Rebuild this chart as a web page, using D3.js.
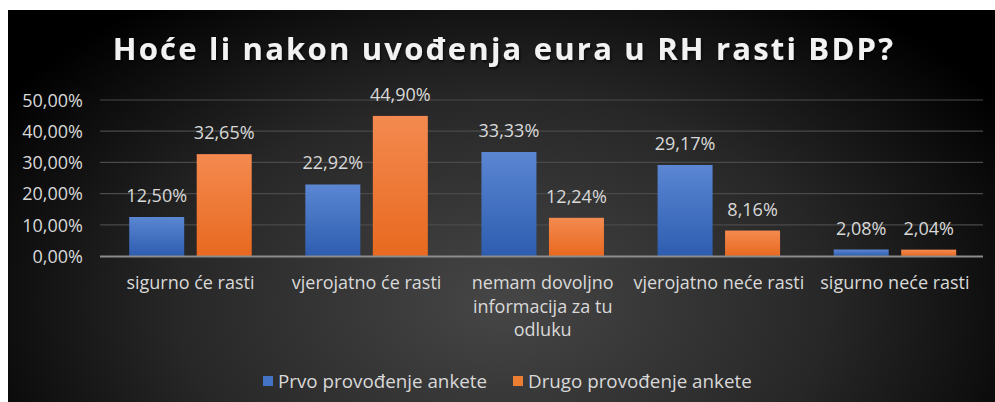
<!DOCTYPE html>
<html><head><meta charset="utf-8">
<script src="https://cdn.jsdelivr.net/npm/d3@7"></script>
<style>
html,body{margin:0;padding:0;background:#fff;}
svg{display:block;}
</style></head>
<body>
<svg id="chart" width="995" height="402"></svg>
<script>
const categories = [["sigurno će rasti"],["vjerojatno će rasti"],["nemam dovoljno","informacija za tu","odluku"],["vjerojatno neće rasti"],["sigurno neće rasti"]];
const seriesNames = ["Prvo provođenje ankete","Drugo provođenje ankete"];
const prvo = [12.50, 22.92, 33.33, 29.17, 2.08];
const drugo = [32.65, 44.90, 12.24, 8.16, 2.04];
const yTicks = [0,10,20,30,40,50];
const title = "Hoće li nakon uvođenja eura u RH rasti BDP?";

const fmt = v => v.toFixed(2).replace('.', ',') + '%';
const svg = d3.select('#chart');
const defs = svg.append('defs');
const rg = defs.append('radialGradient').attr('id','bg').attr('cx','50%').attr('cy','75%').attr('r','60%').attr('fx','50%').attr('fy','75%')
  .attr('gradientTransform','translate(0.5,0.75) scale(1,1.6) translate(-0.5,-0.75)');
rg.append('stop').attr('offset','0%').attr('stop-color','#464646');
rg.append('stop').attr('offset','55%').attr('stop-color','#272727');
rg.append('stop').attr('offset','100%').attr('stop-color','#000000');
const mkGrad = (id, top, bot) => {
  const g = defs.append('linearGradient').attr('id',id).attr('x1',0).attr('y1',0).attr('x2',0).attr('y2',1);
  g.append('stop').attr('offset','0%').attr('stop-color',top);
  g.append('stop').attr('offset','100%').attr('stop-color',bot);
};
mkGrad('gBlue','#5a86d2','#2e5db0');
mkGrad('gOrange','#f48a50','#e8691f');
const sh = defs.append('filter').attr('id','ts').attr('x','-10%').attr('y','-30%').attr('width','120%').attr('height','160%');
sh.append('feDropShadow').attr('dx',1).attr('dy',2).attr('stdDeviation',1.5).attr('flood-color','#000').attr('flood-opacity',0.7);

svg.append('rect').attr('x',8).attr('y',10).attr('width',987).attr('height',392).attr('fill','url(#bg)');

svg.append('text').attr('x',504).attr('y',60).attr('text-anchor','middle')
  .attr('font-family','Open Sans').attr('font-weight',700).attr('font-size',31).attr('letter-spacing',2.2)
  .attr('fill','#f2f2f2').attr('filter','url(#ts)').text(title);

const x0 = d3.scaleBand().domain(d3.range(categories.length)).range([102.4,983]).paddingInner(0).paddingOuter(0);
const y = d3.scaleLinear().domain([0,50]).range([256,100]);

const font = 'Open Sans';
const fs = 18;
const grid = svg.append('g');
yTicks.slice(1).forEach(t => {
  grid.append('line').attr('x1',100).attr('x2',983).attr('y1',y(t)).attr('y2',y(t)).attr('stroke','#4a4a4a').attr('stroke-width',1.2);
});
const yAxis = d3.axisLeft(y).tickValues(yTicks).tickSize(0).tickPadding(0).tickFormat(d => d.toFixed(2).replace('.',',') + '%');
const ga = svg.append('g').attr('transform','translate(83,0)').call(yAxis);
ga.select('.domain').remove();
ga.selectAll('text').attr('font-family',font).attr('font-size',fs).attr('fill','#d9d9d9').attr('dy','0.35em');

const bw = 55, gap = 12.5;
const series = [{vals:prvo, fill:'url(#gBlue)', off:-(gap/2+bw)}, {vals:drugo, fill:'url(#gOrange)', off:gap/2}];
series.forEach(s => {
  const g = svg.append('g');
  g.selectAll('rect').data(s.vals).join('rect')
    .attr('x',(d,i)=>x0(i)+x0.bandwidth()/2+s.off)
    .attr('y',d=>y(d)).attr('width',bw).attr('height',d=>y(0)-y(d))
    .attr('fill',s.fill);
  g.selectAll('text').data(s.vals).join('text')
    .attr('x',(d,i)=>x0(i)+x0.bandwidth()/2+s.off+bw/2)
    .attr('y',d=>y(d)-15).attr('text-anchor','middle')
    .attr('font-family',font).attr('font-size',fs).attr('fill','#d9d9d9').text(d=>fmt(d));
});
svg.append('line').attr('x1',100).attr('x2',983).attr('y1',256.5).attr('y2',256.5).attr('stroke','#8c8c8c').attr('stroke-width',2);

categories.forEach((lines,i) => {
  const t = svg.append('text').attr('text-anchor','middle').attr('font-family',font).attr('font-size',fs).attr('fill','#d9d9d9');
  lines.forEach((ln,j) => t.append('tspan').attr('x',x0(i)+x0.bandwidth()/2).attr('y',289+j*23.5).text(ln));
});

const colors = ['#4472c4','#ed7d31'];
const lx = [263, 513];
seriesNames.forEach((n,i) => {
  svg.append('rect').attr('x',lx[i]).attr('y',376).attr('width',10).attr('height',10).attr('fill',colors[i]);
  svg.append('text').attr('x',lx[i]+15).attr('y',387.5).attr('font-family',font).attr('font-size',18.8).attr('fill','#d9d9d9').text(n);
});
</script>
</body></html>
